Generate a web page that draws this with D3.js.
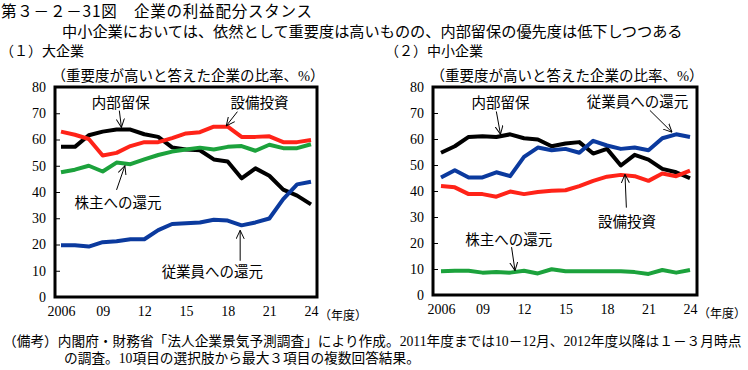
<!DOCTYPE html>
<html>
<head>
<meta charset="utf-8">
<script src="https://cdn.jsdelivr.net/npm/d3@7"></script>
<style>
  body { margin: 0; background: #fff; }
  svg { display: block; }
  .jp { font-family: "Noto Sans CJK JP", sans-serif; }
  .ser { font-family: "Liberation Serif", "Noto Sans CJK JP", serif; }
</style>
</head>
<body>
<svg width="748" height="370"></svg>
<script>
// 年度
const years = [2006, 2007, 2008, 2009, 2010, 2011, 2012, 2013, 2014, 2015,
               2016, 2017, 2018, 2019, 2020, 2021, 2022, 2023, 2024];

// (1) 大企業
const largeNaibu     = [57.2, 57.2, 61.6, 63.0, 63.8, 63.8, 62.0, 61.0, 57.0, 56.2, 55.9, 52.4, 51.6, 45.2, 49.0, 46.2, 40.9, 38.6, 35.3];
const largeSetsubi   = [63.0, 61.8, 60.2, 53.9, 54.9, 57.5, 59.0, 59.0, 60.5, 62.3, 62.8, 64.9, 64.9, 61.0, 61.0, 61.2, 59.0, 59.0, 59.8];
const largeKabunushi = [47.5, 48.5, 50.0, 47.8, 51.2, 50.6, 52.4, 54.1, 55.4, 56.2, 56.9, 56.2, 57.2, 57.5, 55.7, 58.0, 56.7, 56.7, 58.2];
const largeJugyoin   = [19.7, 19.7, 19.2, 20.9, 21.2, 22.0, 22.0, 25.5, 27.8, 28.1, 28.4, 29.4, 29.1, 27.3, 28.4, 29.9, 37.3, 42.9, 43.9];

// (2) 中小企業
const smallNaibu     = [54.7, 57.2, 60.8, 61.1, 60.8, 61.8, 60.3, 59.8, 57.2, 58.3, 58.8, 54.4, 56.2, 49.8, 53.9, 52.1, 48.5, 47.2, 44.9];
const smallSetsubi   = [41.9, 41.4, 38.8, 38.8, 37.8, 39.8, 38.8, 39.6, 40.1, 40.3, 41.9, 43.9, 45.5, 46.2, 45.7, 43.9, 46.7, 45.7, 47.8];
const smallKabunushi = [9.1, 9.3, 9.3, 8.6, 8.8, 8.6, 9.3, 8.3, 9.9, 9.1, 9.1, 9.1, 9.1, 9.1, 8.8, 8.1, 9.6, 8.6, 9.6];
const smallJugyoin   = [45.2, 48.0, 45.2, 45.2, 47.2, 45.7, 53.1, 56.7, 55.7, 56.2, 54.7, 59.3, 57.5, 56.2, 56.7, 55.7, 60.3, 61.8, 60.8];

const seriesNames = ["内部留保", "設備投資", "株主への還元", "従業員への還元"];
const yTicks = [0, 10, 20, 30, 40, 50, 60, 70, 80];
const xTickYears = [2006, 2009, 2012, 2015, 2018, 2021, 2024];
const xTickLabels = ["2006", "09", "12", "15", "18", "21", "24"];

document.addEventListener('DOMContentLoaded', function () {
    const svg = d3.select("svg");
    svg.append("rect").attr("width", 748).attr("height", 370).attr("fill", "#fff");

    const colors = ["#000000", "#ff2318", "#1ca23c", "#0b3a9e"];

    // 矢印
    svg.append("defs").append("marker")
        .attr("id", "arr")
        .attr("viewBox", "0 0 10 10")
        .attr("refX", 9.5).attr("refY", 5)
        .attr("markerWidth", 9).attr("markerHeight", 9)
        .attr("markerUnits", "userSpaceOnUse")
        .attr("orient", "auto")
        .append("path")
        .attr("d", "M0,0.5 L9.5,5 L0,9.5")
        .attr("fill", "none").attr("stroke", "#000").attr("stroke-width", 1.1);

    // タイトル
    svg.append("text").attr("class", "jp").attr("x", 1).attr("y", 17)
        .attr("font-size", 15.5).attr("letter-spacing", 0.8)
        .text("第３－２－31図　企業の利益配分スタンス");
    svg.append("text").attr("class", "jp").attr("x", 62).attr("y", 37)
        .attr("font-size", 15.2)
        .text("中小企業においては、依然として重要度は高いものの、内部留保の優先度は低下しつつある");

    const panels = [
        {
            title: "（１）大企業", titleX: 0,
            box: [55, 317], xr: [61, 311], yr: [297, 87], unitX: 319,
            data: [largeNaibu, largeSetsubi, largeKabunushi, largeJugyoin],
            // [ラベル位置, 矢印の根元, 矢印の先] (年度, %)
            notes: [
                [[2010.3, 74], [2010.2, 71], [2010.35, 64.6]],
                [[2020.3, 74], [2018.7, 70.6], [2017.9, 65.2]],
                [[2010.1, 36], [2010.0, 40.8], [2010.6, 50.0]],
                [[2016.9, 9.6], [2018.9, 13.8], [2018.9, 25.4]]
            ]
        },
        {
            title: "（２）中小企業", titleX: 385,
            box: [433, 697], xr: [441, 690], yr: [295, 87], unitX: 698,
            data: [smallNaibu, smallSetsubi, smallKabunushi, smallJugyoin],
            notes: [
                [[2010.3, 73.8], [2010.0, 70.6], [2010.3, 61.8]],
                [[2019.45, 28.0], [2019.4, 33.6], [2019.3, 46.4]],
                [[2010.9, 21.2], [2011.1, 18.4], [2011.35, 9.4]],
                [[2020.2, 74.2], [2021.1, 71.0], [2022.7, 62.6]]
            ]
        }
    ];

    panels.forEach(function (p) {
        const x = d3.scaleLinear().domain([2006, 2024]).range(p.xr);
        const y = d3.scaleLinear().domain([0, 80]).range(p.yr);
        const g = svg.append("g");

        g.append("text").attr("class", "jp").attr("x", p.titleX).attr("y", 56)
            .attr("font-size", 14).text(p.title);
        g.append("text").attr("class", "ser").attr("x", (p.box[0] + p.box[1]) / 2 + 2)
            .attr("y", y(80) - 6).attr("text-anchor", "middle")
            .attr("font-size", 14.5).text("（重要度が高いと答えた企業の比率、%）");

        // y軸
        const yAxis = d3.axisLeft(y).tickValues(yTicks).tickSize(-5).tickPadding(9);
        const ya = g.append("g").attr("transform", `translate(${p.box[0]},0)`).call(yAxis);
        ya.select(".domain").remove();
        ya.selectAll(".tick line").attr("stroke", "#000");
        ya.selectAll(".tick text").attr("class", "ser").attr("font-size", 14)
            .attr("fill", "#000");

        // x軸
        const xAxis = d3.axisBottom(x).tickValues(xTickYears)
            .tickFormat((d, i) => xTickLabels[i]).tickSize(0).tickPadding(9);
        const xa = g.append("g").attr("transform", `translate(0,${y(0)})`).call(xAxis);
        xa.select(".domain").remove();
        xa.selectAll(".tick text").attr("class", "ser").attr("font-size", 14)
            .attr("fill", "#000");
        g.append("text").attr("class", "ser").attr("x", p.unitX).attr("y", y(0) + 23)
            .attr("font-size", 12).text("（年度）");

        // 系列
        const line = d3.line().x((d, i) => x(years[i])).y(d => y(d));
        p.data.forEach(function (vals, k) {
            g.append("path").datum(vals)
                .attr("fill", "none").attr("stroke", colors[k])
                .attr("stroke-width", 4).attr("stroke-linejoin", "round")
                .attr("d", line);
        });

        // 枠
        g.append("rect").attr("x", p.box[0]).attr("y", y(80))
            .attr("width", p.box[1] - p.box[0]).attr("height", y(0) - y(80))
            .attr("fill", "none").attr("stroke", "#000").attr("stroke-width", 3);

        // ラベルと矢印
        p.notes.forEach(function (n, k) {
            g.append("text").attr("class", "ser")
                .attr("x", x(n[0][0])).attr("y", y(n[0][1]))
                .attr("dy", "0.36em").attr("text-anchor", "middle")
                .attr("font-size", 14.5).text(seriesNames[k]);
            g.append("line")
                .attr("x1", x(n[1][0])).attr("y1", y(n[1][1]))
                .attr("x2", x(n[2][0])).attr("y2", y(n[2][1]))
                .attr("stroke", "#000").attr("stroke-width", 1)
                .attr("marker-end", "url(#arr)");
        });
    });

    // 備考
    svg.append("text").attr("class", "ser").attr("x", 3).attr("y", 346).attr("font-size", 13.7)
        .text("（備考）内閣府・財務省「法人企業景気予測調査」により作成。2011年度までは10－12月、2012年度以降は１－３月時点");
    svg.append("text").attr("class", "ser").attr("x", 64).attr("y", 363).attr("font-size", 13.7)
        .text("の調査。10項目の選択肢から最大３項目の複数回答結果。");
});
</script>
</body>
</html>
